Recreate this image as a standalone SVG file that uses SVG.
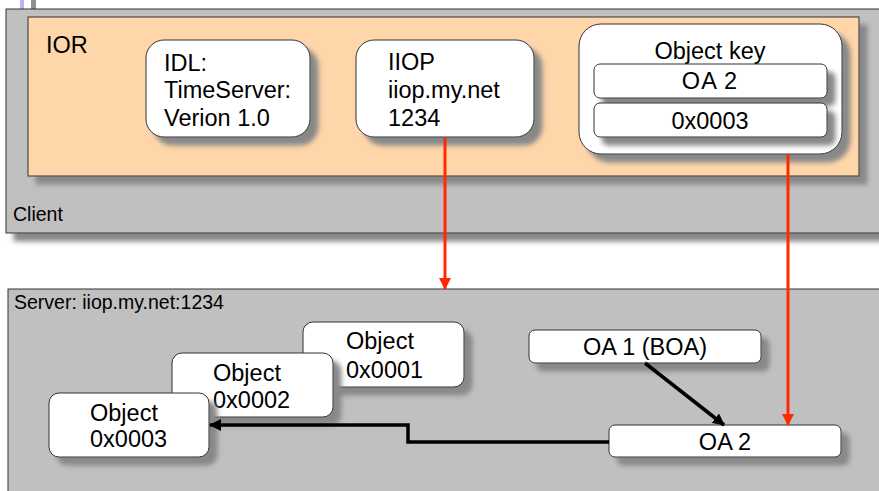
<svg xmlns="http://www.w3.org/2000/svg" width="879" height="491" viewBox="0 0 879 491">
<style>
text{font-family:"Liberation Sans",Arial,sans-serif;fill:#000;font-size:23.5px}
.small{font-size:19.5px}
.mid{text-anchor:middle}
.container{fill:#c0c0c0;stroke:#333;stroke-width:1}
.ior{fill:#ffd6aa;stroke:#333;stroke-width:1}
.box{fill:#fff;stroke:#333;stroke-width:1}
.red{fill:none;stroke:#ff2a00;stroke-width:3}
.blk{fill:none;stroke:#000;stroke-width:3.5}
</style>
<defs>
<filter id="sh" x="-10%" y="-10%" width="130%" height="150%">
<feGaussianBlur in="SourceAlpha" stdDeviation="2.5"/>
<feOffset dx="8" dy="8" result="b"/>
<feFlood flood-color="#888"/>
<feComposite in2="b" operator="in"/>
<feMerge><feMergeNode/><feMergeNode in="SourceGraphic"/></feMerge>
</filter>
<marker id="ar" viewBox="0 0 12 12" refX="11" refY="6" markerWidth="12" markerHeight="12" orient="auto" markerUnits="userSpaceOnUse"><path d="M0,0 L12,6 L0,12 z" fill="#ff2a00"/></marker>
<marker id="ab" viewBox="0 0 12 12" refX="11" refY="6" markerWidth="12" markerHeight="12" orient="auto" markerUnits="userSpaceOnUse"><path d="M0,0 L12,6 L0,12 z" fill="#000"/></marker>
</defs>
<rect x="0" y="0" width="879" height="491" fill="#fff"/>
<rect x="20" y="0" width="4" height="9" fill="#b4b4f4"/>
<rect x="31" y="0" width="5" height="9" fill="#909090"/>

<g id="client">
<rect class="container" x="6" y="9" width="880" height="224" filter="url(#sh)"/>
<text class="small" x="13" y="221">Client</text>
</g>
<g id="ior">
<rect class="ior" x="28" y="17" width="831" height="159" filter="url(#sh)"/>
<text x="46" y="53">IOR</text>
</g>
<g id="idl">
<rect class="box" x="146" y="40" width="164" height="97" rx="18" filter="url(#sh)"/>
<text x="164" y="71">IDL:</text>
<text x="164" y="98">TimeServer:</text>
<text x="164" y="126">Verion 1.0</text>
</g>
<g id="iiop">
<rect class="box" x="356" y="40" width="178" height="97" rx="18" filter="url(#sh)"/>
<text x="388" y="70">IIOP</text>
<text x="388" y="98">iiop.my.net</text>
<text x="388" y="126">1234</text>
</g>
<g id="objectkey">
<rect class="box" x="579" y="24" width="263" height="130" rx="22" filter="url(#sh)"/>
<text class="mid" x="710" y="59">Object key</text>
<rect class="box" x="594" y="64" width="233" height="34" rx="6" filter="url(#sh)"/>
<text class="mid" x="710" y="89" letter-spacing="1">OA 2</text>
<rect class="box" x="594" y="103" width="233" height="34" rx="6" filter="url(#sh)"/>
<text class="mid" x="710" y="129">0x0003</text>
</g>

<g id="server">
<rect class="container" x="8" y="289" width="880" height="220" filter="url(#sh)"/>
<text class="small" x="14" y="309">Server: iiop.my.net:1234</text>
</g>
<g id="obj1">
<rect class="box" x="303" y="322" width="161" height="65" rx="10" filter="url(#sh)"/>
<text x="346" y="349">Object</text>
<text x="346" y="378">0x0001</text>
</g>
<g id="obj2">
<rect class="box" x="172" y="353" width="161" height="64" rx="10" filter="url(#sh)"/>
<text x="213" y="381">Object</text>
<text x="213" y="408">0x0002</text>
</g>
<g id="obj3">
<rect class="box" x="49" y="393" width="160" height="64" rx="10" filter="url(#sh)"/>
<text x="90" y="421">Object</text>
<text x="90" y="447">0x0003</text>
</g>
<g id="oa1">
<rect class="box" x="529" y="330" width="232" height="33" rx="6" filter="url(#sh)"/>
<text class="mid" x="645" y="355">OA 1 (BOA)</text>
</g>
<g id="oa2">
<rect class="box" x="609" y="425" width="232" height="32" rx="6" filter="url(#sh)"/>
<text class="mid" x="725" y="450">OA 2</text>
</g>

<g id="connectors">
<path class="red" d="M445,137 V289" marker-end="url(#ar)"/>
<path class="red" d="M788,154 V425" marker-end="url(#ar)"/>
<path class="blk" d="M645,363 L724,425" marker-end="url(#ab)"/>
<path class="blk" d="M609,442 H408 V425 H210" marker-end="url(#ab)"/>
</g>
</svg>
